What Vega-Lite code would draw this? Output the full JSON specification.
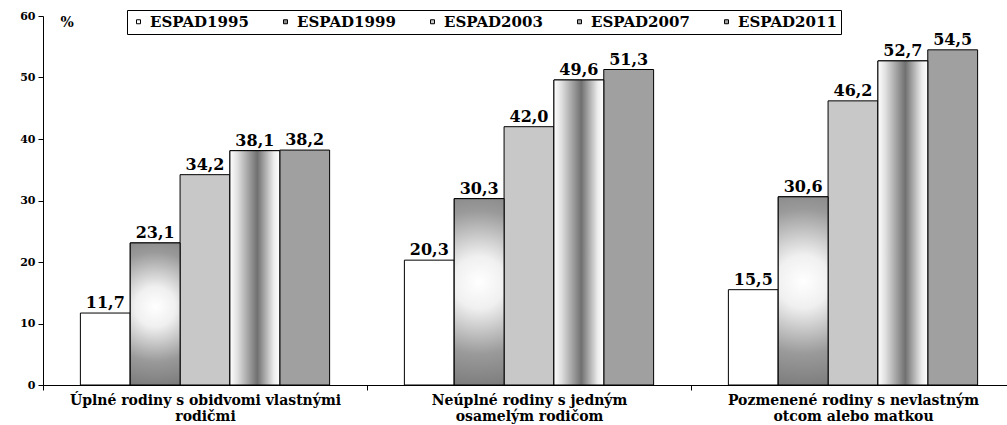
{
  "$schema": "https://vega.github.io/schema/vega-lite/v6.json",
  "width": 964,
  "height": 369,
  "autosize": {"type": "none"},
  "padding": {"left": 43, "top": 16, "right": 0, "bottom": 40},
  "background": "#ffffff",
  "config": {"view": {"stroke": null}, "font": "DejaVu Serif"},
  "data": {
    "values": [
      {"cat": "Úplné rodiny s obidvomi vlastnými|rodičmi", "series": "ESPAD1995", "v": 11.7, "lbl": "11,7"},
      {"cat": "Úplné rodiny s obidvomi vlastnými|rodičmi", "series": "ESPAD1999", "v": 23.1, "lbl": "23,1"},
      {"cat": "Úplné rodiny s obidvomi vlastnými|rodičmi", "series": "ESPAD2003", "v": 34.2, "lbl": "34,2"},
      {"cat": "Úplné rodiny s obidvomi vlastnými|rodičmi", "series": "ESPAD2007", "v": 38.1, "lbl": "38,1"},
      {"cat": "Úplné rodiny s obidvomi vlastnými|rodičmi", "series": "ESPAD2011", "v": 38.2, "lbl": "38,2"},
      {"cat": "Neúplné rodiny s jedným|osamelým rodičom", "series": "ESPAD1995", "v": 20.3, "lbl": "20,3"},
      {"cat": "Neúplné rodiny s jedným|osamelým rodičom", "series": "ESPAD1999", "v": 30.3, "lbl": "30,3"},
      {"cat": "Neúplné rodiny s jedným|osamelým rodičom", "series": "ESPAD2003", "v": 42.0, "lbl": "42,0"},
      {"cat": "Neúplné rodiny s jedným|osamelým rodičom", "series": "ESPAD2007", "v": 49.6, "lbl": "49,6"},
      {"cat": "Neúplné rodiny s jedným|osamelým rodičom", "series": "ESPAD2011", "v": 51.3, "lbl": "51,3"},
      {"cat": "Pozmenené rodiny s nevlastným|otcom alebo matkou", "series": "ESPAD1995", "v": 15.5, "lbl": "15,5"},
      {"cat": "Pozmenené rodiny s nevlastným|otcom alebo matkou", "series": "ESPAD1999", "v": 30.6, "lbl": "30,6"},
      {"cat": "Pozmenené rodiny s nevlastným|otcom alebo matkou", "series": "ESPAD2003", "v": 46.2, "lbl": "46,2"},
      {"cat": "Pozmenené rodiny s nevlastným|otcom alebo matkou", "series": "ESPAD2007", "v": 52.7, "lbl": "52,7"},
      {"cat": "Pozmenené rodiny s nevlastným|otcom alebo matkou", "series": "ESPAD2011", "v": 54.5, "lbl": "54,5"}
    ]
  },
  "encoding": {
    "x": {
      "field": "cat", "type": "nominal", "sort": null,
      "scale": {"paddingInner": 0, "paddingOuter": 0, "range": [0, 972]},
      "axis": {
        "title": null, "labelAngle": 0, "labelExpr": "split(datum.label, '|')", "labelLimit": 0,
        "tickBand": "extent", "domainColor": "#000000", "tickColor": "#000000", "tickSize": 5,
        "labelFont": "DejaVu Serif", "labelFontWeight": "bold", "labelFontSize": 14,
        "labelLineHeight": 16, "labelPadding": 3, "labelColor": "#000000"
      }
    },
    "xOffset": {
      "field": "series", "type": "nominal",
      "scale": {"domain": ["ESPAD1995", "ESPAD1999", "ESPAD2003", "ESPAD2007", "ESPAD2011"], "paddingOuter": 0.75, "paddingInner": 0}
    },
    "y": {
      "field": "v", "type": "quantitative",
      "scale": {"domain": [0, 60]},
      "axis": {
        "title": "%", "titleAngle": 0, "titleX": 17, "titleY": 6, "titleAlign": "left", "titleBaseline": "middle",
        "titleFont": "DejaVu Serif", "titleFontWeight": "bold", "titleFontSize": 14, "titleColor": "#000000",
        "values": [0, 10, 20, 30, 40, 50, 60], "grid": false,
        "domainColor": "#000000", "tickColor": "#000000", "tickSize": 5,
        "labelFont": "DejaVu Serif", "labelFontWeight": "bold", "labelFontSize": 11,
        "labelColor": "#000000", "labelPadding": 3
      }
    }
  },
  "layer": [
    {
      "mark": {"type": "bar", "stroke": "#000000", "strokeWidth": 1},
      "encoding": {
        "color": {
          "field": "series", "type": "nominal",
          "scale": {
            "domain": ["ESPAD1995", "ESPAD1999", "ESPAD2003", "ESPAD2007", "ESPAD2011"],
            "range": ["#ffffff", "#8c8c8c", "#c8c8c8", "#a8a8a8", "#a0a0a0"]
          },
          "legend": {
            "orient": "none", "legendX": 84, "legendY": -6, "direction": "horizontal",
            "title": null, "strokeColor": "#000000", "fillColor": "#ffffff", "padding": 4,
            "symbolType": "square", "symbolSize": 100, "symbolStrokeColor": "#000000", "symbolStrokeWidth": 1,
            "labelFont": "DejaVu Serif", "labelFontWeight": "bold", "labelFontSize": 15,
            "labelColor": "#000000", "labelOffset": 4, "columnPadding": 29
          }
        }
      }
    },
    {
      "transform": [{"filter": "datum.series === 'ESPAD1999'"}],
      "mark": {
        "type": "bar", "stroke": "#000000", "strokeWidth": 1,
        "color": {
          "gradient": "radial", "x1": 0.5, "y1": 0.45, "r1": 0, "x2": 0.5, "y2": 0.45, "r2": 0.7,
          "stops": [
            {"offset": 0, "color": "#ffffff"},
            {"offset": 0.2, "color": "#f0f0f0"},
            {"offset": 0.55, "color": "#9a9a9a"},
            {"offset": 1, "color": "#666666"}
          ]
        }
      }
    },
    {
      "transform": [{"filter": "datum.series === 'ESPAD2007'"}],
      "mark": {
        "type": "bar", "stroke": "#000000", "strokeWidth": 1,
        "color": {
          "gradient": "linear", "x1": 0, "y1": 0, "x2": 1, "y2": 0,
          "stops": [
            {"offset": 0, "color": "#ffffff"},
            {"offset": 0.15, "color": "#e0e0e0"},
            {"offset": 0.55, "color": "#707070"},
            {"offset": 0.88, "color": "#ececec"},
            {"offset": 1, "color": "#ffffff"}
          ]
        }
      }
    },
    {
      "mark": {"type": "text", "baseline": "bottom", "dy": -2, "font": "DejaVu Serif", "fontWeight": "bold", "color": "#000000"},
      "encoding": {
        "text": {"field": "lbl"},
        "size": {
          "field": "series", "type": "ordinal",
          "scale": {"domain": ["ESPAD1995", "ESPAD1999", "ESPAD2003", "ESPAD2007", "ESPAD2011"], "range": [16, 16, 16, 18, 18]},
          "legend": null
        }
      }
    }
  ]
}
